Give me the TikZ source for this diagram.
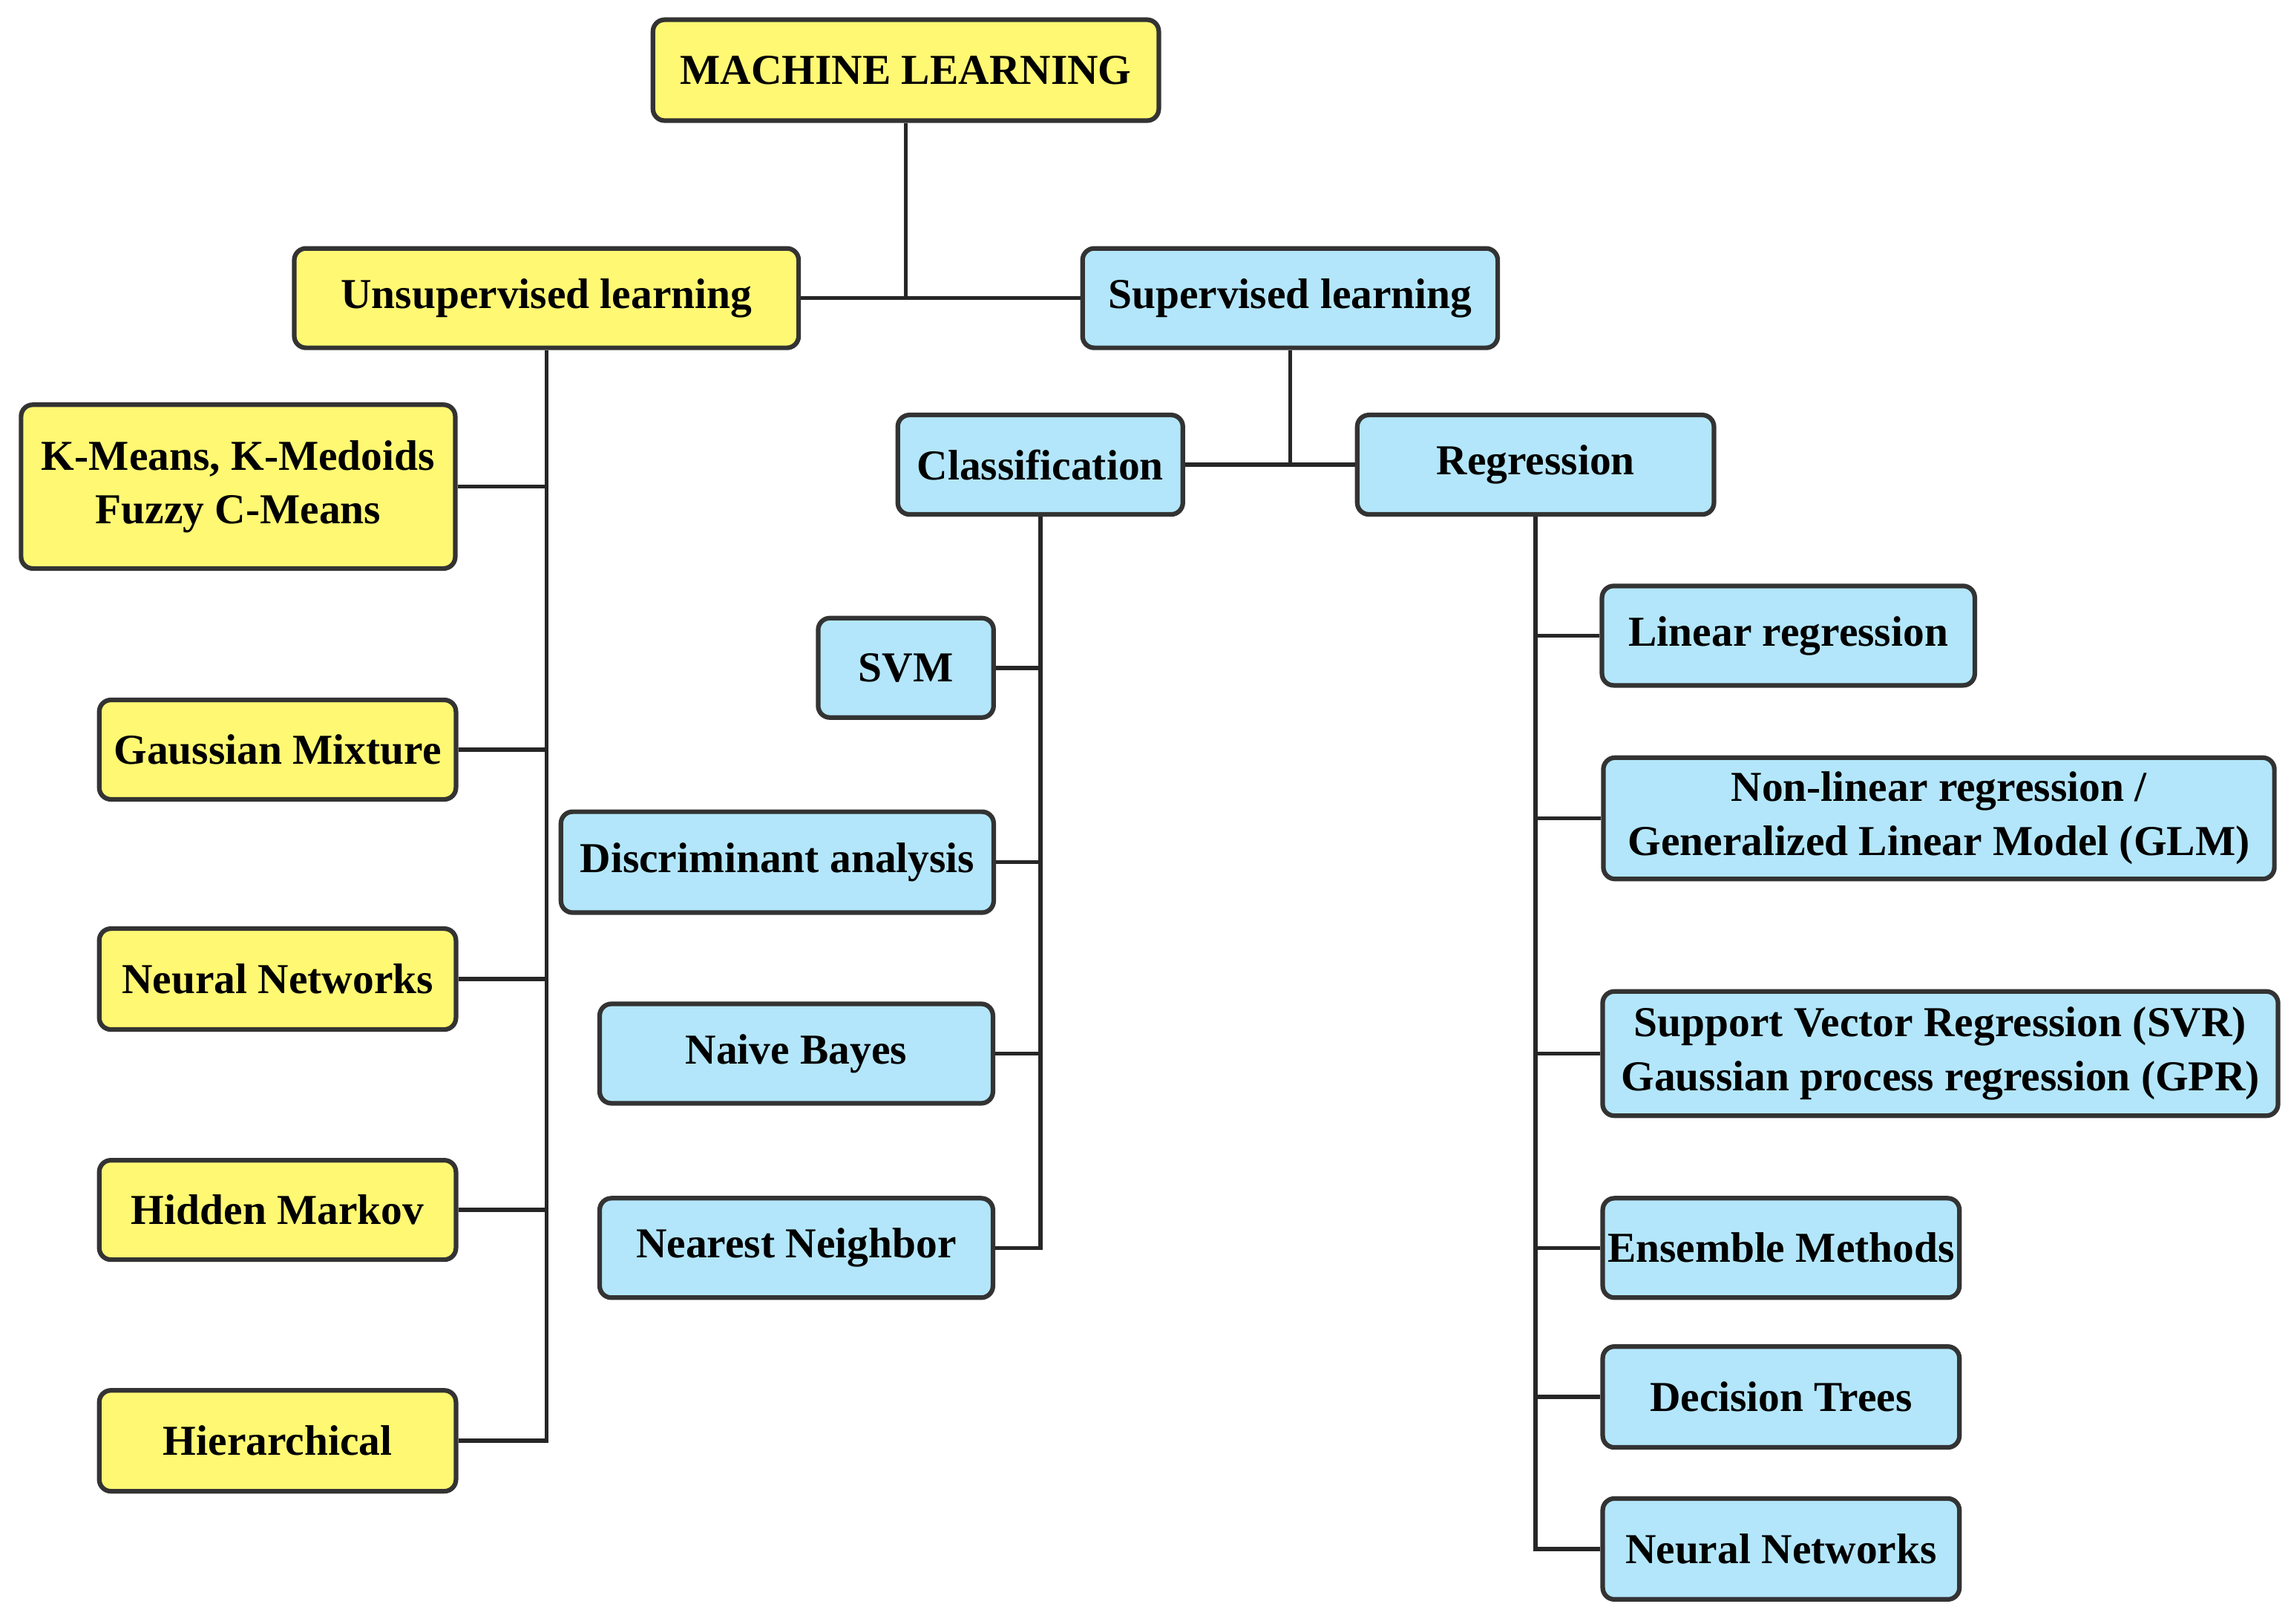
\documentclass[tikz,border=0pt]{standalone}
\usepackage{fontspec}
\setmainfont{Liberation Serif}
\begin{document}
\begin{tikzpicture}[x=0.01cm,y=-0.01cm,
  box/.style={draw=black!80,line width=0.9pt,rounded corners=0.08cm,align=center,inner sep=0pt,
    font=\fontsize{8.3}{10.5}\selectfont\bfseries},
  yb/.style={box,fill=yellow!55},
  cb/.style={box,fill=cyan!30},
  ln/.style={line width=0.8pt,black!85}]
\useasboundingbox (0,0) rectangle (1568,1111);
\node[yb,minimum width=3.46cm,minimum height=0.69cm] (ml) at (620,48) {MACHINE LEARNING};
\node[yb,minimum width=3.45cm,minimum height=0.68cm] (un) at (374,204) {Unsupervised learning};
\node[cb,minimum width=2.84cm,minimum height=0.68cm] (su) at (883,204) {Supervised learning};
\node[yb,minimum width=2.97cm,minimum height=1.12cm] (km) at (163,333) {K-Means, K-Medoids\\Fuzzy C-Means};
\node[yb,minimum width=2.44cm,minimum height=0.68cm] (gm) at (190,513) {Gaussian Mixture};
\node[yb,minimum width=2.44cm,minimum height=0.69cm] (nl) at (190,670) {Neural Networks};
\node[yb,minimum width=2.44cm,minimum height=0.68cm] (hm) at (190,828) {Hidden Markov};
\node[yb,minimum width=2.44cm,minimum height=0.69cm] (hi) at (190,986) {Hierarchical};
\node[cb,minimum width=1.95cm,minimum height=0.68cm] (cl) at (712,318) {Classification};
\node[cb,minimum width=2.44cm,minimum height=0.68cm] (re) at (1051,318) {Regression};
\node[cb,minimum width=1.20cm,minimum height=0.68cm] (svm) at (620,457) {SVM};
\node[cb,minimum width=2.96cm,minimum height=0.69cm] (da) at (532,590) {Discriminant analysis};
\node[cb,minimum width=2.69cm,minimum height=0.68cm] (nb) at (545,721) {Naive Bayes};
\node[cb,minimum width=2.69cm,minimum height=0.68cm] (nn) at (545,854) {Nearest Neighbor};
\node[cb,minimum width=2.55cm,minimum height=0.68cm] (lr) at (1224,435) {Linear regression};
\node[cb,minimum width=4.59cm,minimum height=0.83cm] (nlr) at (1327,560) {Non-linear regression /\\Generalized Linear Model (GLM)};
\node[cb,minimum width=4.62cm,minimum height=0.85cm] (svr) at (1328,721) {Support Vector Regression (SVR)\\Gaussian process regression (GPR)};
\node[cb,minimum width=2.44cm,minimum height=0.68cm] (em) at (1219,854) {Ensemble Methods};
\node[cb,minimum width=2.44cm,minimum height=0.69cm] (dt) at (1219,956) {Decision Trees};
\node[cb,minimum width=2.44cm,minimum height=0.69cm] (nr) at (1219,1060) {Neural Networks};
\draw[ln] (ml.south) -- (ml.south |- un.east);
\draw[ln] (un.east) -- (su.west);
\draw[ln] (un.south) |- (hi.east);
\foreach \n in {km,gm,nl,hm} \draw[ln] (\n.east) -- (un.south |- \n.east);
\draw[ln] (su.south) -- (su.south |- cl.east);
\draw[ln] (cl.east) -- (re.west);
\draw[ln] (cl.south) |- (nn.east);
\foreach \n in {svm,da,nb} \draw[ln] (\n.east) -- (cl.south |- \n.east);
\draw[ln] (re.south) |- (nr.west);
\foreach \n in {lr,nlr,svr,em,dt} \draw[ln] (\n.west) -- (re.south |- \n.west);
\end{tikzpicture}
\end{document}
